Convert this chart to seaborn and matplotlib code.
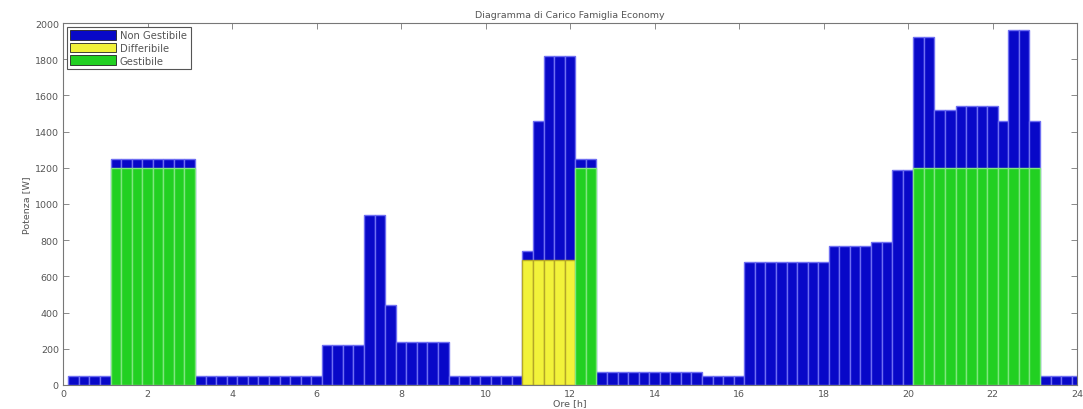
import numpy as np
import pandas as pd
import matplotlib
matplotlib.use("Agg")
import matplotlib.pyplot as plt
from matplotlib.patches import Patch
import seaborn as sns

# Quarter-hour slots: slot k is centred at k/4 hours (k = 1..96)
hours = np.arange(1, 97) / 4.0

# Total load per slot [W] (top of each stacked bar)
total_load = (
    [50] * 4 + [1250] * 8 + [50] * 12 + [220] * 4 + [940] * 2 + [440] * 1
    + [240] * 5 + [50] * 7 + [740] * 1 + [1460] * 1 + [1820] * 3 + [1250] * 2
    + [70] * 10 + [50] * 4 + [680] * 8 + [770] * 4 + [790] * 2 + [1190] * 2
    + [1920] * 2 + [1520] * 2 + [1540] * 4 + [1460] * 1 + [1960] * 2 + [1460] * 1
    + [50] * 4
)

# Deferrable load [W]
differibile = [0] * 43 + [690] * 5 + [0] * 48

# Manageable load [W]
gestibile = (
    [0] * 4 + [1200] * 8 + [0] * 36 + [1200] * 2 + [0] * 30 + [1200] * 12 + [0] * 4
)

series_names = ["Non Gestibile", "Differibile", "Gestibile"]
col_blue = "#0808c8"
col_yellow = "#f2f23a"
col_green = "#22d022"

df = pd.DataFrame({
    "ora": hours,
    "totale": total_load,
    "differibile": differibile,
    "gestibile": gestibile,
})

sns.set_style("white")
plt.rcParams["font.family"] = ["DejaVu Sans"]

fig = plt.figure(figsize=(10.83, 4.10), dpi=100)
ax = fig.add_axes([63 / 1083, 24 / 410, 1014 / 1083, 362 / 410])

# Stack: full height in blue, then the lower components drawn over it
sns.barplot(data=df, x="ora", y="totale", native_scale=True, width=1.0,
            color=col_blue, saturation=1, edgecolor="#6e6ef2", linewidth=1.0,
            errorbar=None, ax=ax)
sns.barplot(data=df[df["differibile"] > 0], x="ora", y="differibile",
            native_scale=True, width=1.0, color=col_yellow, saturation=1,
            edgecolor="#b4a628", linewidth=1.0, errorbar=None, ax=ax)
sns.barplot(data=df[df["gestibile"] > 0], x="ora", y="gestibile",
            native_scale=True, width=1.0, color=col_green, saturation=1,
            edgecolor="#80e680", linewidth=1.0, errorbar=None, ax=ax)

txt = "#555555"
fs = 6.8
ax.set_xlim(0, 24)
ax.set_ylim(0, 2000)
ax.set_xticks(np.arange(0, 25, 2))
ax.set_yticks(np.arange(0, 2001, 200))
ax.set_xticklabels([str(v) for v in range(0, 25, 2)])
ax.set_yticklabels([str(v) for v in range(0, 2001, 200)])
ax.tick_params(direction="in", length=4, width=0.6, colors="#777777",
               labelcolor=txt, labelsize=fs, top=True, right=True,
               bottom=True, left=True, pad=3)
for sp in ax.spines.values():
    sp.set_visible(True)
    sp.set_color("#777777")
    sp.set_linewidth(0.8)

ax.set_xlabel("Ore [h]", fontsize=fs, color=txt, labelpad=0)
ax.set_ylabel("Potenza [W]", fontsize=fs, color=txt, labelpad=3)
ax.set_title("Diagramma di Carico Famiglia Economy", fontsize=fs, color=txt, pad=4)

handles = [
    Patch(facecolor=col_blue, edgecolor="#222222", linewidth=0.6),
    Patch(facecolor=col_yellow, edgecolor="#222222", linewidth=0.6),
    Patch(facecolor=col_green, edgecolor="#222222", linewidth=0.6),
]
leg = ax.legend(handles, series_names, loc="upper left", fontsize=fs + 0.4,
                handlelength=4.6, handleheight=1.1, labelspacing=0.25,
                borderpad=0.35, handletextpad=0.4, borderaxespad=0.35,
                fancybox=False, framealpha=1, edgecolor="#555555")
leg.get_frame().set_linewidth(0.8)
for t in leg.get_texts():
    t.set_color(txt)

fig.savefig("out.png", dpi=100, facecolor="white")
